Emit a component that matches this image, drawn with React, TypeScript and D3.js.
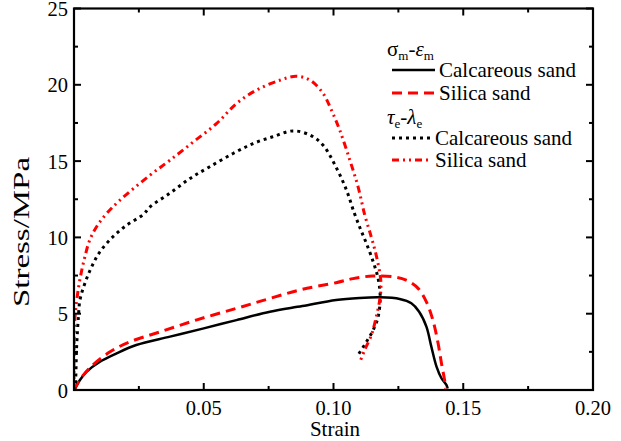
import React from "react";
import * as d3 from "d3";

const calcM: [number, number][] = [[0,0],[0.0004,0.1],[0.0023,0.65],[0.0049,1.2],[0.010,1.85],[0.0164,2.4],[0.024,2.95],[0.037,3.5],[0.050,4.04],[0.0626,4.58],[0.0755,5.13],[0.088,5.5],[0.101,5.9],[0.110,6.03],[0.118,6.07],[0.1255,5.96],[0.130,5.68],[0.133,5.13],[0.1358,4.15],[0.1377,2.84],[0.1397,1.53],[0.1416,0.77],[0.1435,0.33],[0.144,0.1]];
const silicaM: [number, number][] = [[0,0],[0.002,0.6],[0.006,1.44],[0.0139,2.5],[0.0216,3.16],[0.033,3.8],[0.047,4.58],[0.0626,5.35],[0.0755,6.0],[0.088,6.6],[0.101,7.03],[0.1075,7.3],[0.115,7.47],[0.123,7.42],[0.128,7.2],[0.1326,6.66],[0.1358,5.78],[0.1383,4.58],[0.1403,3.06],[0.1416,1.75],[0.1428,0.65],[0.1432,0.1]];
const calcE: [number, number][] = [[0,0],[0.0004,0.2],[0.001,2.8],[0.0017,4.8],[0.0023,5.9],[0.0042,7.0],[0.0068,8.07],[0.010,9.06],[0.015,10.04],[0.0203,10.8],[0.0267,11.5],[0.0293,12.0],[0.037,12.9],[0.0447,13.86],[0.052,14.6],[0.0613,15.5],[0.069,16.15],[0.0767,16.6],[0.0844,16.98],[0.091,16.7],[0.096,16.04],[0.101,14.6],[0.105,13.1],[0.108,11.6],[0.1105,10.5],[0.1127,9.6],[0.1153,8.4],[0.1172,7.3],[0.118,6.1],[0.1172,4.8],[0.1153,3.93],[0.1127,3.16],[0.1095,2.3]];
const silicaE: [number, number][] = [[0,0],[0,2.6],[0.0004,4.8],[0.0017,6.66],[0.003,7.86],[0.0042,8.73],[0.006,9.8],[0.0087,10.7],[0.0126,11.57],[0.0177,12.44],[0.0293,14.08],[0.037,15.06],[0.046,16.26],[0.055,17.47],[0.0626,18.77],[0.0703,19.65],[0.0793,20.3],[0.0857,20.56],[0.091,20.3],[0.096,19.43],[0.0992,18.34],[0.1024,17.03],[0.1063,15.06],[0.1095,13.3],[0.112,11.5],[0.1146,10.0],[0.1165,8.8],[0.118,7.5],[0.1183,6.9],[0.118,6.1],[0.1165,4.8],[0.1146,3.6],[0.112,2.62],[0.110,1.75]];

const xTicks = [0.05, 0.10, 0.15, 0.20];
const xTickLabels = ["0.05", "0.10", "0.15", "0.20"];
const yTicks = [0, 5, 10, 15, 20, 25];
const xMinor = [0.025, 0.075, 0.125, 0.175];
const yMinor = [2.5, 7.5, 12.5, 17.5, 22.5];

const tStyle: React.CSSProperties = { fontFamily: '"Liberation Serif", serif' };

export default function App() {
  const W = 621, H = 441;
  const L = 74, R = 593, T = 8.5, B = 390;
  const x = d3.scaleLinear().domain([0, 0.2]).range([L, R]);
  const y = d3.scaleLinear().domain([0, 25]).range([B, T]);
  const line = d3.line<[number, number]>().x(d => x(d[0])).y(d => y(d[1])).curve(d3.curveCatmullRom.alpha(0.5));

  const series = [
    { data: calcM, color: "#000", dash: undefined as string | undefined, w: 2.5 },
    { data: silicaM, color: "#ff0000", dash: "10,6", w: 3 },
    { data: calcE, color: "#000", dash: "3,4", w: 3 },
    { data: silicaE, color: "#ff0000", dash: "7,4,2,4,2,4", w: 3 },
  ];

  const lx1 = 392, lx2 = 435;
  return (
    <svg width={W} height={H} style={{ display: "block", position: "absolute", left: 0, top: 0 }}>
      <rect width={W} height={H} fill="#fff" />
      <defs>
        <clipPath id="plot"><rect x={L} y={T} width={R - L} height={B - T} /></clipPath>
      </defs>
      <g clipPath="url(#plot)">
        {series.map((s, i) => (
          <path key={i} d={line(s.data) || ""} fill="none" stroke={s.color} strokeWidth={s.w} strokeDasharray={s.dash} strokeLinejoin="round" />
        ))}
      </g>
      <rect x={L} y={T} width={R - L} height={B - T} fill="none" stroke="#000" strokeWidth={2.2} />
      {xTicks.map(t => (
        <g key={"xt" + t}>
          <line x1={x(t)} x2={x(t)} y1={B} y2={B - 7} stroke="#000" strokeWidth={2} />
          <line x1={x(t)} x2={x(t)} y1={T} y2={T + 7} stroke="#000" strokeWidth={2} />
        </g>
      ))}
      {xMinor.map(t => (
        <g key={"xm" + t}>
          <line x1={x(t)} x2={x(t)} y1={B} y2={B - 4} stroke="#000" strokeWidth={2} />
          <line x1={x(t)} x2={x(t)} y1={T} y2={T + 4} stroke="#000" strokeWidth={2} />
        </g>
      ))}
      {yTicks.map(t => (
        <g key={"yt" + t}>
          <line x1={L} x2={L + 7} y1={y(t)} y2={y(t)} stroke="#000" strokeWidth={2} />
          <line x1={R} x2={R - 7} y1={y(t)} y2={y(t)} stroke="#000" strokeWidth={2} />
        </g>
      ))}
      {yMinor.map(t => (
        <g key={"ym" + t}>
          <line x1={L} x2={L + 4} y1={y(t)} y2={y(t)} stroke="#000" strokeWidth={2} />
          <line x1={R} x2={R - 4} y1={y(t)} y2={y(t)} stroke="#000" strokeWidth={2} />
        </g>
      ))}
      {xTicks.map((t, i) => (
        <text key={"xl" + t} style={tStyle} x={x(t)} y={415} textAnchor="middle" fontSize={20.5}>{xTickLabels[i]}</text>
      ))}
      {yTicks.map(t => (
        <text key={"yl" + t} style={tStyle} x={68} y={y(t) + 7.5} textAnchor="end" fontSize={20.5}>{t}</text>
      ))}
      <text style={tStyle} x={335} y={436} textAnchor="middle" fontSize={21}>Strain</text>
      <text style={tStyle} transform="translate(29,232) rotate(-90)" textAnchor="middle" fontSize={23} textLength={150} lengthAdjust="spacingAndGlyphs">Stress/MPa</text>

      <text style={tStyle} x={387} y={56} fontSize={21}>
        <tspan>σ</tspan><tspan fontSize={13} dy={4}>m</tspan><tspan dy={-4}>-</tspan><tspan fontStyle="italic">ε</tspan><tspan fontSize={13} dy={4}>m</tspan>
      </text>
      <line x1={lx1} x2={lx2} y1={70} y2={70} stroke="#000" strokeWidth={2.5} />
      <text style={tStyle} x={439} y={77} fontSize={21}>Calcareous sand</text>
      <line x1={lx1} x2={lx2} y1={93} y2={93} stroke="#ff0000" strokeWidth={3} strokeDasharray="10,6" />
      <text style={tStyle} x={439} y={100} fontSize={21}>Silica sand</text>
      <text style={tStyle} x={387} y={124} fontSize={21}>
        <tspan fontStyle="italic">τ</tspan><tspan fontSize={13} dy={4}>e</tspan><tspan dy={-4}>-</tspan><tspan fontStyle="italic">λ</tspan><tspan fontSize={13} dy={4}>e</tspan>
      </text>
      <line x1={lx1} x2={430} y1={138} y2={138} stroke="#000" strokeWidth={3} strokeDasharray="3,4" />
      <text style={tStyle} x={435} y={145} fontSize={21}>Calcareous sand</text>
      <line x1={lx1} x2={430} y1={160} y2={160} stroke="#ff0000" strokeWidth={3} strokeDasharray="7,4,2,4,2,4" />
      <text style={tStyle} x={435} y={167} fontSize={21}>Silica sand</text>
    </svg>
  );
}
